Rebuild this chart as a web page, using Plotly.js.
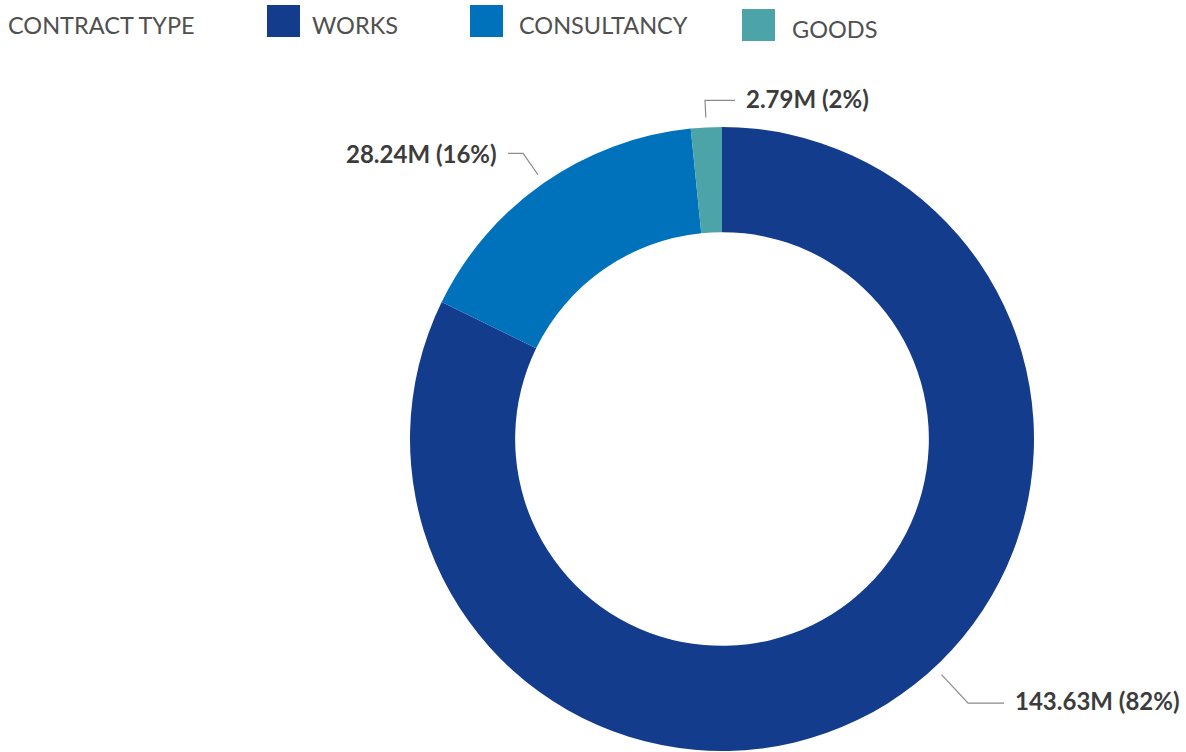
<!DOCTYPE html>
<html>
<head>
<meta charset="utf-8">
<script src="https://cdn.plot.ly/plotly-3.0.1.min.js"></script>
<style>html,body{margin:0;padding:0;background:#fff;}#chart{width:1186px;height:752px;}</style>
</head>
<body>
<div id="chart"></div>
<script>
// ---- data ----
const legendTitle = 'CONTRACT TYPE';
const categories = ['WORKS', 'CONSULTANCY', 'GOODS'];
const values = [143.63, 28.24, 2.79];
const colors = ['#143C8C', '#0072BC', '#4CA3A8'];

// ---- layout config (positions/styling only) ----
const W = 1186, H = 752;
const CX = 722, CY = 439, R = 312;
const HOLE = 0.663;
const calloutAngleOffset = [-11, 0, 0];   // degrees, shift from slice mid-angle
const calloutRadial = [39, 26, 17];
const calloutTail = [36, 15, 30];
const calloutSide = [1, -1, 1];
const calloutTextDy = [-3, 0, -2];
const legendSwatchX = [267, 470, 742];
const legendSwatchY = [5, 5, 9];
const legendTextX = [310, 517, 790];
const labelFont = {family: 'Lato, sans-serif', size: 24, color: '#3c3c3c', weight: 700};
const legendFont = {family: 'Lato, sans-serif', size: 23.5, color: '#505050'};

const px = x => x / W;
const py = y => 1 - y / H;

const total = values.reduce((a, b) => a + b, 0);

const trace = {
  type: 'pie',
  labels: categories,
  values: values,
  marker: {colors: colors, line: {width: 0}},
  hole: HOLE,
  sort: false,
  direction: 'clockwise',
  rotation: 0,
  textinfo: 'none',
  hoverinfo: 'label+value+percent',
  showlegend: false,
  domain: {x: [px(CX - R), px(CX + R)], y: [py(CY + R), py(CY - R)]}
};

const shapes = [];
const annotations = [];

// callout labels
let cum = 0;
values.forEach((v, i) => {
  const frac = v / total;
  const mid = (cum + frac / 2) * 360 + calloutAngleOffset[i];
  cum += frac;
  const a = mid * Math.PI / 180;
  const dx = Math.sin(a), dy = -Math.cos(a);
  const r1 = R + 10;
  const x1 = CX + dx * r1, y1 = CY + dy * r1;
  const x2 = CX + dx * (r1 + calloutRadial[i]), y2 = CY + dy * (r1 + calloutRadial[i]);
  const x3 = x2 + calloutSide[i] * calloutTail[i], y3 = y2;
  shapes.push({
    type: 'path', xref: 'paper', yref: 'paper',
    path: `M ${px(x1)},${py(y1)} L ${px(x2)},${py(y2)} L ${px(x3)},${py(y3)}`,
    line: {color: '#8a8a8a', width: 1.2}
  });
  const pct = Math.round(frac * 100);
  annotations.push({
    xref: 'paper', yref: 'paper',
    x: px(x3 + calloutSide[i] * 9), y: py(y3 + calloutTextDy[i]),
    xanchor: calloutSide[i] > 0 ? 'left' : 'right', yanchor: 'middle',
    text: `${v.toFixed(2)}M (${pct}%)`,
    showarrow: false, font: labelFont
  });
});

// custom legend
annotations.push({
  xref: 'paper', yref: 'paper', x: px(6), y: py(25),
  xanchor: 'left', yanchor: 'middle', text: legendTitle,
  showarrow: false, font: legendFont
});
categories.forEach((c, i) => {
  shapes.push({
    type: 'rect', xref: 'paper', yref: 'paper',
    x0: px(legendSwatchX[i]), x1: px(legendSwatchX[i] + 33),
    y0: py(legendSwatchY[i] + 32), y1: py(legendSwatchY[i]),
    fillcolor: colors[i], line: {width: 0}
  });
  annotations.push({
    xref: 'paper', yref: 'paper', x: px(legendTextX[i]), y: py(legendSwatchY[i] + 20),
    xanchor: 'left', yanchor: 'middle', text: c,
    showarrow: false, font: legendFont
  });
});

const layout = {
  width: W, height: H,
  margin: {l: 0, r: 0, t: 0, b: 0, pad: 0},
  paper_bgcolor: '#ffffff',
  plot_bgcolor: '#ffffff',
  showlegend: false,
  shapes: shapes,
  annotations: annotations
};

Plotly.newPlot('chart', [trace], layout, {displayModeBar: false});
</script>
</body>
</html>
